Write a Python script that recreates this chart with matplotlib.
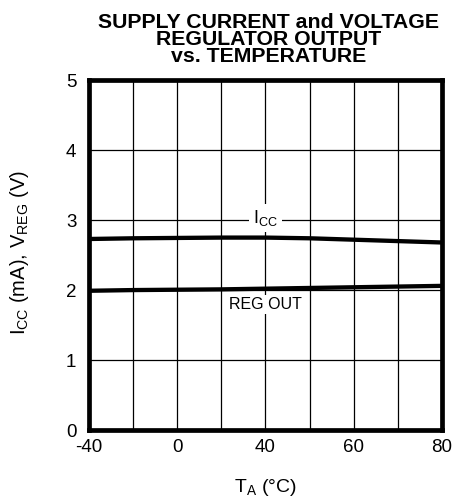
import numpy as np
import matplotlib.pyplot as plt

plt.rcParams['font.family'] = ['Liberation Sans', 'DejaVu Sans']
plt.rcParams['mathtext.fontset'] = 'custom'
plt.rcParams['mathtext.rm'] = 'Liberation Sans'
plt.rcParams['mathtext.it'] = 'Liberation Sans'

# x positions are grid divisions; the temperature labels sit on every other one
grid_pos = [0, 1, 2, 3, 4, 5, 6, 7, 8]
temp_tick_pos = [0, 2, 4, 6, 8]
temp_labels = ['-40', '0', '40', '60', '80']
icc = [2.73, 2.74, 2.745, 2.75, 2.75, 2.74, 2.72, 2.70, 2.68]
vreg = [1.99, 2.00, 2.005, 2.01, 2.02, 2.03, 2.04, 2.05, 2.06]
y_ticks = [0, 1, 2, 3, 4, 5]

fig = plt.figure(figsize=(4.57, 5.01), dpi=100)
ax = fig.add_axes([0.1947, 0.1417, 0.7723, 0.6983])

ax.set_xlim(0, 8)
ax.set_ylim(0, 5)
ax.set_xticks(grid_pos)
ax.set_xticklabels(['' for _ in grid_pos])
for p, lab in zip(temp_tick_pos, temp_labels):
    ax.text(p, -0.13, lab, ha='center', va='top', fontsize=13.5)
ax.set_yticks(y_ticks)
ax.set_yticklabels([str(v) for v in y_ticks], fontsize=13.5)
ax.tick_params(length=0, pad=9)
ax.grid(True, color='black', linewidth=0.9)
ax.set_axisbelow(True)
for s in ax.spines.values():
    s.set_linewidth(3.4)
    s.set_zorder(5)

ax.plot(grid_pos, icc, color='black', linewidth=3.1, solid_capstyle='butt', zorder=4)
ax.plot(grid_pos, vreg, color='black', linewidth=3.1, solid_capstyle='butt', zorder=4)

ax.text(4.0, 3.03, r'$\mathregular{I_{CC}}$', ha='center', va='center', fontsize=13,
        bbox=dict(facecolor='white', edgecolor='none', pad=3), zorder=6)
ax.text(4.0, 1.79, 'REG OUT', ha='center', va='center', fontsize=11.5,
        bbox=dict(facecolor='white', edgecolor='none', pad=1.5), zorder=6)

fig.text(0.043, 0.495, r'$\mathregular{I_{CC}}$ (mA), $\mathregular{V_{REG}}$ (V)',
         rotation=90, ha='center', va='center', fontsize=14.5)
fig.text(0.58, 0.027, r'$\mathregular{T_A}$ ($\degree$C)', ha='center', va='center',
         fontsize=14)

fig.text(0.587, 0.921, 'SUPPLY CURRENT and VOLTAGE\nREGULATOR OUTPUT\nvs. TEMPERATURE',
         ha='center', va='center', fontsize=15.3, fontweight='bold', linespacing=0.88)

fig.savefig('out.png', dpi=100)
